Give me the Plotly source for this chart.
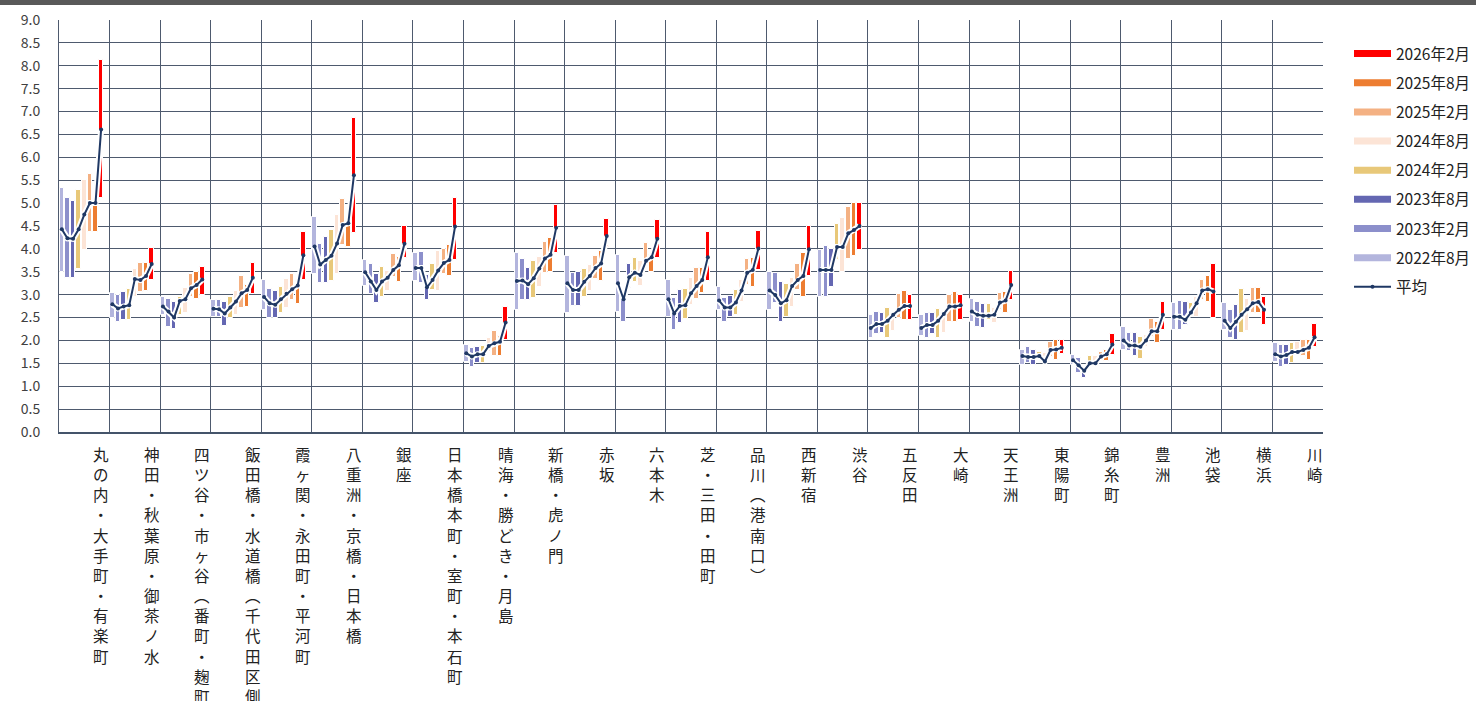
import plotly.graph_objects as go

# Office areas along the x axis
areas = [
    "丸の内・大手町・有楽町", "神田・秋葉原・御茶ノ水", "四ツ谷・市ヶ谷（番町・麹町）",
    "飯田橋・水道橋（千代田区側）", "霞ヶ関・永田町・平河町", "八重洲・京橋・日本橋", "銀座",
    "日本橋本町・室町・本石町", "晴海・勝どき・月島", "新橋・虎ノ門", "赤坂", "六本木",
    "芝・三田・田町", "品川（港南口）", "西新宿", "渋谷", "五反田", "大崎", "天王洲",
    "東陽町", "錦糸町", "豊洲", "池袋", "横浜", "川崎",
]

periods = ["2022年8月", "2023年2月", "2023年8月", "2024年2月",
           "2024年8月", "2025年2月", "2025年8月", "2026年2月"]
period_colors = ["#B3B5DD", "#8C8FCB", "#6467B2", "#E8C879",
                 "#FCE4D6", "#F4B183", "#ED7D31", "#FF0000"]

# Range (low / high) per survey period, one value per area
low_2022_08 = [3.49, 2.50, 2.55, 2.51, 2.67, 3.46, 3.20, 3.29, 1.54, 2.67, 2.61, 2.63, 2.51, 2.67, 2.67, 2.96, 2.05, 2.09, 2.41, 1.46, 1.46, 1.79, 2.23, 2.23, 1.54]
high_2022_08 = [5.34, 3.04, 2.96, 2.89, 3.32, 4.69, 3.75, 3.91, 1.90, 3.90, 3.85, 3.87, 3.32, 3.17, 3.50, 3.98, 2.56, 2.56, 2.90, 1.79, 1.68, 2.29, 2.81, 2.81, 1.94]
low_2023_02 = [3.37, 2.40, 2.30, 2.52, 2.49, 3.26, 3.01, 3.26, 1.43, 2.88, 2.75, 2.40, 2.23, 2.41, 2.81, 2.96, 2.13, 2.05, 2.30, 1.50, 1.28, 1.76, 2.23, 2.05, 1.43]
high_2023_02 = [5.11, 3.00, 2.90, 2.89, 3.12, 4.10, 3.68, 3.93, 1.83, 3.79, 3.48, 3.00, 2.92, 2.92, 3.47, 4.06, 2.63, 2.59, 2.85, 1.86, 1.61, 2.16, 2.87, 2.66, 1.90]
low_2023_08 = [3.37, 2.45, 2.25, 2.32, 2.49, 3.25, 2.81, 2.88, 1.50, 2.88, 2.75, 3.14, 2.38, 2.52, 2.41, 3.17, 2.16, 2.13, 2.27, 1.46, 1.19, 1.65, 2.34, 2.01, 1.46]
high_2023_08 = [5.05, 3.06, 2.85, 2.85, 3.09, 4.27, 3.45, 3.44, 1.86, 3.59, 3.49, 3.68, 3.10, 2.97, 3.28, 4.00, 2.61, 2.59, 2.80, 1.79, 1.41, 2.16, 2.83, 2.77, 1.91]
low_2024_02 = [3.57, 2.45, 2.55, 2.49, 2.60, 3.29, 2.96, 3.10, 1.50, 2.93, 2.96, 3.28, 2.46, 2.56, 2.52, 3.75, 2.05, 2.05, 2.45, 1.57, 1.46, 1.59, 2.56, 2.16, 1.50]
high_2024_02 = [5.29, 3.13, 2.95, 2.96, 3.16, 4.41, 3.61, 3.66, 1.88, 3.74, 3.55, 3.80, 3.12, 3.10, 3.23, 4.55, 2.70, 2.68, 2.80, 1.75, 1.66, 2.08, 2.81, 3.12, 1.95]
low_2024_08 = [3.98, 2.95, 2.60, 2.56, 2.71, 3.46, 3.09, 3.09, 1.75, 3.17, 3.07, 3.18, 2.77, 2.85, 2.74, 3.50, 2.20, 2.16, 2.39, 1.50, 1.50, 1.86, 2.52, 2.20, 1.72]
high_2024_08 = [5.50, 3.57, 3.15, 3.07, 3.34, 4.74, 3.52, 3.95, 2.06, 3.83, 3.65, 3.73, 3.36, 3.32, 3.36, 4.67, 2.59, 2.63, 2.70, 1.73, 1.65, 2.12, 2.95, 2.90, 1.97]
low_2025_02 = [4.36, 3.05, 2.95, 2.70, 2.88, 4.09, 3.39, 3.45, 1.65, 3.47, 3.35, 3.62, 2.90, 3.21, 3.10, 3.78, 2.49, 2.41, 2.67, 1.64, 1.57, 2.08, 2.89, 2.59, 1.65]
high_2025_02 = [5.64, 3.69, 3.45, 3.41, 3.46, 5.10, 3.88, 4.00, 2.20, 4.16, 3.85, 4.13, 3.58, 3.79, 3.68, 4.92, 3.01, 2.99, 3.04, 1.97, 1.75, 2.46, 3.33, 3.14, 2.02]
low_2025_08 = [4.36, 3.07, 2.90, 2.73, 2.80, 4.05, 3.27, 3.40, 1.65, 3.50, 3.30, 3.50, 3.04, 3.16, 2.96, 3.84, 2.45, 2.41, 2.60, 1.57, 1.55, 1.94, 2.85, 2.59, 1.57]
high_2025_08 = [5.00, 3.69, 3.50, 3.21, 3.30, 4.60, 3.82, 4.08, 2.10, 4.23, 3.95, 3.86, 3.58, 3.80, 3.90, 5.00, 3.09, 3.06, 3.06, 2.00, 1.80, 2.40, 3.40, 3.14, 2.02]
low_2026_02 = [5.11, 3.32, 3.00, 3.01, 3.32, 4.34, 3.80, 3.75, 2.01, 3.90, 4.05, 3.80, 3.30, 3.53, 3.40, 3.98, 2.45, 2.45, 2.88, 1.71, 1.68, 2.23, 2.49, 2.34, 1.86]
high_2026_02 = [8.13, 4.02, 3.60, 3.70, 4.36, 6.86, 4.50, 5.12, 2.72, 4.96, 4.65, 4.63, 4.37, 4.40, 4.50, 5.00, 2.99, 2.99, 3.52, 2.01, 2.15, 2.85, 3.67, 2.96, 2.36]

# Average per survey period, one value per area
avg_2022_08 = [4.43, 2.79, 2.74, 2.69, 2.95, 4.05, 3.49, 3.58, 1.72, 3.30, 3.25, 3.25, 2.90, 2.87, 3.09, 3.54, 2.27, 2.27, 2.63, 1.66, 1.57, 2.00, 2.52, 2.43, 1.70]
avg_2023_02 = [4.23, 2.70, 2.63, 2.68, 2.81, 3.66, 3.29, 3.58, 1.65, 3.31, 3.10, 2.90, 2.59, 2.72, 2.99, 3.54, 2.36, 2.34, 2.56, 1.64, 1.46, 1.89, 2.52, 2.27, 1.65]
avg_2023_08 = [4.22, 2.74, 2.50, 2.59, 2.78, 3.76, 3.10, 3.16, 1.70, 3.23, 3.10, 3.38, 2.75, 2.72, 2.81, 3.54, 2.36, 2.34, 2.54, 1.64, 1.34, 1.89, 2.45, 2.41, 1.68]
avg_2024_02 = [4.43, 2.77, 2.86, 2.72, 2.90, 3.85, 3.29, 3.32, 1.70, 3.36, 3.28, 3.48, 2.77, 2.83, 2.88, 4.04, 2.43, 2.43, 2.54, 1.66, 1.50, 1.86, 2.61, 2.56, 1.75]
avg_2024_08 = [4.75, 3.34, 2.90, 2.85, 3.02, 4.12, 3.37, 3.53, 1.88, 3.57, 3.41, 3.43, 3.03, 3.09, 3.19, 4.04, 2.56, 2.58, 2.56, 1.54, 1.50, 2.00, 2.81, 2.68, 1.75]
avg_2025_02 = [5.00, 3.32, 3.14, 3.03, 3.12, 4.52, 3.54, 3.69, 1.94, 3.79, 3.58, 3.74, 3.19, 3.48, 3.32, 4.34, 2.67, 2.74, 2.83, 1.79, 1.65, 2.20, 3.09, 2.81, 1.79]
avg_2025_08 = [5.00, 3.41, 3.21, 3.10, 3.20, 4.56, 3.64, 3.76, 1.97, 3.87, 3.68, 3.82, 3.32, 3.54, 3.41, 4.41, 2.75, 2.74, 2.87, 1.80, 1.70, 2.20, 3.12, 2.84, 1.84]
avg_2026_02 = [6.61, 3.67, 3.33, 3.37, 3.86, 5.61, 4.11, 4.49, 2.39, 4.46, 4.28, 4.22, 3.82, 4.01, 3.99, 4.50, 2.75, 2.77, 3.21, 1.84, 1.91, 2.56, 3.07, 2.67, 2.07]

y_ticks = [i * 0.5 for i in range(19)]

lows = [low_2022_08, low_2023_02, low_2023_08, low_2024_02,
        low_2024_08, low_2025_02, low_2025_08, low_2026_02]
highs = [high_2022_08, high_2023_02, high_2023_08, high_2024_02,
         high_2024_08, high_2025_02, high_2025_08, high_2026_02]
avgs = [avg_2022_08, avg_2023_02, avg_2023_08, avg_2024_02,
        avg_2024_08, avg_2025_02, avg_2025_08, avg_2026_02]

SLOTS = 9  # eight periods plus one empty slot per area
n_areas = len(areas)

fig = go.Figure()

# Floating range bars, one trace per period
for p, (name, col) in enumerate(zip(periods, period_colors)):
    xs = [a * SLOTS + p for a in range(n_areas)]
    fig.add_trace(go.Bar(
        x=xs, base=lows[p], y=[h - l for h, l in zip(highs[p], lows[p])],
        width=0.8, marker=dict(color=col, line=dict(color="white", width=1)),
        name=name, showlegend=False, hoverinfo="skip",
    ))

# Average line, broken between areas
line_x, line_y = [], []
for a in range(n_areas):
    for p in range(len(periods)):
        line_x.append(a * SLOTS + p)
        line_y.append(avgs[p][a])
    line_x.append(None)
    line_y.append(None)

fig.add_trace(go.Scatter(
    x=line_x, y=line_y, mode="lines", connectgaps=False,
    line=dict(color="white", width=6), showlegend=False, hoverinfo="skip",
))

# Legend entries, newest period first
for name, col in reversed(list(zip(periods, period_colors))):
    fig.add_trace(go.Scatter(
        x=[None], y=[None], mode="lines", name=name, legendgroup=name,
        line=dict(color=col, width=7),
    ))

fig.add_trace(go.Scatter(
    x=line_x, y=line_y, mode="lines+markers", connectgaps=False, name="平均",
    legendgroup="平均",
    line=dict(color="#1F3864", width=2), marker=dict(color="#1F3864", size=4),
))

grid_col = "#4E5A6E"
fig.update_xaxes(
    range=[-0.5, n_areas * SLOTS - 0.5],
    tickmode="array", tickvals=[a * SLOTS - 0.5 for a in range(n_areas + 1)],
    showticklabels=False, showgrid=True, gridcolor=grid_col, gridwidth=1,
    showline=True, linecolor="#44546A", linewidth=2, zeroline=False, ticks="",
)
fig.update_yaxes(
    range=[0, 9], tickmode="array", tickvals=y_ticks,
    ticktext=[f"{v:.1f}" for v in y_ticks],
    showgrid=True, gridcolor=grid_col, gridwidth=1,
    showline=True, linecolor=grid_col, linewidth=1, zeroline=False,
    ticks="", ticklabelstandoff=15,
    tickfont=dict(family="Noto Sans CJK JP", size=14, color="#404040"),
)

# Vertical area labels
V_PAREN = str.maketrans({"（": "︵", "）": "︶"})
for a, name in enumerate(areas):
    txt = "<br>".join(name.translate(V_PAREN))
    fig.add_annotation(
        x=a * SLOTS + 7, y=-0.022, xref="x", yref="paper",
        xanchor="center", yanchor="top", showarrow=False, align="center",
        text=txt, font=dict(family="Noto Sans CJK JP", size=15.5, color="#222222"),
    )

# Dark strip along the top edge of the page
fig.add_shape(type="rect", xref="paper", yref="paper",
              x0=-59 / 1264, x1=1417 / 1264, y0=1 + 15 / 412, y1=1 + 21 / 412,
              fillcolor="#595959", line=dict(width=0), layer="above")

fig.update_layout(
    width=1476, height=701,
    margin=dict(l=59, r=153, t=20, b=269, autoexpand=False),
    paper_bgcolor="white", plot_bgcolor="white",
    barmode="overlay", bargap=0,
    showlegend=True,
    legend=dict(
        x=(1349 - 59) / 1264, y=(432 - 37) / 412, xanchor="left", yanchor="top",
        font=dict(family="Noto Sans CJK JP", size=15.5, color="#222222"),
        tracegroupgap=6, itemwidth=37, bgcolor="rgba(0,0,0,0)",
    ),
    font=dict(family="Noto Sans CJK JP"),
)

fig.write_html("out.html")
